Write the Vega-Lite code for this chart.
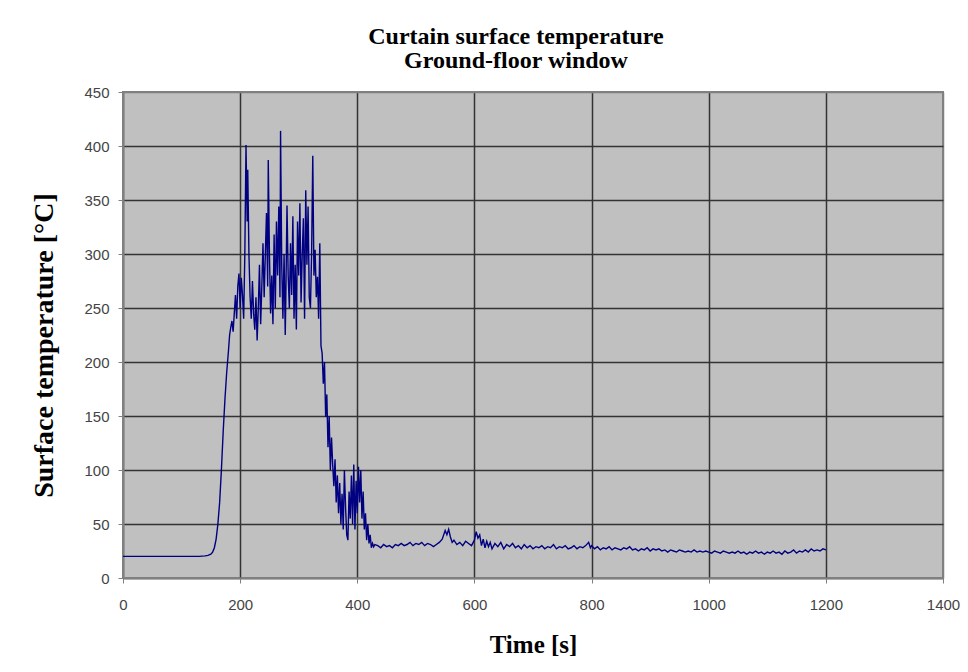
{
  "$schema": "https://vega.github.io/schema/vega-lite/v6.json",
  "width": 820,
  "height": 486,
  "autosize": {"type": "none"},
  "padding": {"left": 123, "top": 92, "right": 25, "bottom": 94},
  "background": "white",
  "title": {
    "text": ["Curtain surface temperature", "Ground-floor window"],
    "font": "Liberation Serif",
    "fontSize": 24,
    "fontWeight": "bold",
    "lineHeight": 24,
    "color": "black",
    "anchor": "middle",
    "frame": "group",
    "offset": 12,
    "dx": -17
  },
  "config": {
    "view": {"fill": "#C0C0C0", "stroke": "#808080", "strokeWidth": 2}
  },
  "data": {"values": [
    {"t":0,"v":20},{"t":50,"v":20},{"t":100,"v":20},{"t":130,"v":20},{"t":140,"v":20.5},{"t":145,"v":21},{"t":150,"v":22},{"t":153,"v":24},{"t":156,"v":28},{"t":159,"v":36},{"t":162,"v":50},{"t":165,"v":70},{"t":168,"v":100},{"t":171,"v":135},{"t":174,"v":165},{"t":177,"v":190},{"t":180,"v":210},{"t":182,"v":225},{"t":184,"v":232},{"t":186,"v":238},{"t":188,"v":228},{"t":190,"v":245},{"t":192,"v":262},{"t":194,"v":240},{"t":196,"v":270},{"t":198,"v":282},{"t":200,"v":250},{"t":202,"v":278},{"t":204,"v":262},{"t":206,"v":240},{"t":208,"v":300},{"t":210,"v":401},{"t":212,"v":330},{"t":213,"v":378},{"t":215,"v":300},{"t":217,"v":260},{"t":219,"v":240},{"t":221,"v":275},{"t":223,"v":245},{"t":225,"v":230},{"t":227,"v":260},{"t":229,"v":220},{"t":231,"v":250},{"t":233,"v":290},{"t":235,"v":235},{"t":237,"v":270},{"t":239,"v":310},{"t":241,"v":260},{"t":243,"v":300},{"t":245,"v":338},{"t":247,"v":270},{"t":248,"v":387},{"t":250,"v":300},{"t":252,"v":245},{"t":254,"v":280},{"t":256,"v":235},{"t":258,"v":318},{"t":260,"v":250},{"t":262,"v":330},{"t":264,"v":280},{"t":266,"v":344},{"t":268,"v":260},{"t":269,"v":414},{"t":271,"v":290},{"t":273,"v":240},{"t":275,"v":300},{"t":277,"v":225},{"t":278,"v":260},{"t":280,"v":345},{"t":282,"v":280},{"t":284,"v":250},{"t":286,"v":310},{"t":288,"v":262},{"t":290,"v":335},{"t":292,"v":240},{"t":294,"v":290},{"t":296,"v":230},{"t":298,"v":330},{"t":300,"v":280},{"t":302,"v":347},{"t":304,"v":255},{"t":306,"v":300},{"t":308,"v":333},{"t":310,"v":240},{"t":312,"v":359},{"t":314,"v":290},{"t":316,"v":344},{"t":318,"v":260},{"t":320,"v":250},{"t":322,"v":300},{"t":324,"v":391},{"t":326,"v":280},{"t":328,"v":304},{"t":330,"v":260},{"t":332,"v":279},{"t":334,"v":240},{"t":336,"v":310},{"t":338,"v":215},{"t":340,"v":208},{"t":342,"v":180},{"t":344,"v":200},{"t":346,"v":149},{"t":348,"v":170},{"t":350,"v":121},{"t":352,"v":150},{"t":354,"v":100},{"t":356,"v":130},{"t":358,"v":105},{"t":360,"v":85},{"t":362,"v":110},{"t":364,"v":70},{"t":366,"v":95},{"t":368,"v":60},{"t":370,"v":88},{"t":372,"v":50},{"t":374,"v":78},{"t":376,"v":45},{"t":378,"v":100},{"t":380,"v":65},{"t":382,"v":40},{"t":384,"v":35},{"t":386,"v":80},{"t":388,"v":55},{"t":390,"v":95},{"t":392,"v":50},{"t":394,"v":105},{"t":396,"v":45},{"t":398,"v":90},{"t":400,"v":60},{"t":402,"v":103},{"t":404,"v":70},{"t":406,"v":100},{"t":408,"v":55},{"t":410,"v":80},{"t":412,"v":45},{"t":414,"v":60},{"t":416,"v":35},{"t":418,"v":50},{"t":420,"v":32},{"t":422,"v":40},{"t":424,"v":28},{"t":426,"v":32},{"t":428,"v":29},{"t":430,"v":31},
    {"t":435,"v":30},{"t":440,"v":28},{"t":445,"v":31},{"t":450,"v":29},{"t":455,"v":30},{"t":460,"v":28},{"t":465,"v":31},{"t":470,"v":30},{"t":475,"v":32},{"t":480,"v":30},{"t":485,"v":31},{"t":490,"v":33},{"t":495,"v":30},{"t":500,"v":32},{"t":505,"v":31},{"t":510,"v":33},{"t":515,"v":30},{"t":520,"v":32},{"t":525,"v":31},{"t":530,"v":29},{"t":535,"v":31},{"t":540,"v":33},{"t":545,"v":36},{"t":550,"v":44},{"t":553,"v":40},{"t":556,"v":45},{"t":559,"v":38},{"t":562,"v":33},{"t":565,"v":35},{"t":570,"v":31},{"t":575,"v":33},{"t":580,"v":30},{"t":585,"v":34},{"t":590,"v":32},{"t":595,"v":30},{"t":600,"v":35},{"t":603,"v":43},{"t":606,"v":37},{"t":609,"v":40},{"t":612,"v":30},{"t":615,"v":36},{"t":618,"v":28},{"t":621,"v":34},{"t":624,"v":29},{"t":627,"v":33},{"t":630,"v":27},{"t":635,"v":32},{"t":640,"v":29},{"t":645,"v":33},{"t":650,"v":27},{"t":655,"v":31},{"t":660,"v":29},{"t":665,"v":32},{"t":670,"v":28},{"t":675,"v":30},{"t":680,"v":27},{"t":685,"v":31},{"t":690,"v":28},{"t":695,"v":30},{"t":700,"v":27},{"t":705,"v":29},{"t":710,"v":28},{"t":715,"v":30},{"t":720,"v":27},{"t":725,"v":29},{"t":730,"v":28},{"t":735,"v":31},{"t":740,"v":27},{"t":745,"v":29},{"t":750,"v":28},{"t":755,"v":30},{"t":760,"v":27},{"t":765,"v":28},{"t":770,"v":30},{"t":775,"v":27},{"t":780,"v":29},{"t":785,"v":28},{"t":790,"v":30},{"t":795,"v":33},{"t":798,"v":28},{"t":800,"v":30},{"t":805,"v":27},{"t":810,"v":29},{"t":815,"v":26},{"t":820,"v":28},{"t":825,"v":27},{"t":830,"v":29},{"t":835,"v":26},{"t":840,"v":28},{"t":845,"v":27},{"t":850,"v":26},{"t":855,"v":28},{"t":860,"v":27},{"t":865,"v":29},{"t":870,"v":26},{"t":875,"v":27},{"t":880,"v":25},{"t":885,"v":27},{"t":890,"v":26},{"t":895,"v":28},{"t":900,"v":25},{"t":905,"v":27},{"t":910,"v":26},{"t":915,"v":27},{"t":920,"v":25},{"t":925,"v":26},{"t":930,"v":24},{"t":935,"v":26},{"t":940,"v":25},{"t":945,"v":24},{"t":950,"v":26},{"t":955,"v":25},{"t":960,"v":24},{"t":965,"v":25},{"t":970,"v":24},{"t":975,"v":26},{"t":980,"v":24},{"t":985,"v":25},{"t":990,"v":24},{"t":995,"v":25},{"t":1000,"v":24},{"t":1005,"v":23},{"t":1010,"v":25},{"t":1015,"v":24},{"t":1020,"v":23},{"t":1025,"v":25},{"t":1030,"v":24},{"t":1035,"v":23},{"t":1040,"v":24},{"t":1045,"v":23},{"t":1050,"v":25},{"t":1055,"v":23},{"t":1060,"v":24},{"t":1065,"v":22},{"t":1070,"v":24},{"t":1075,"v":23},{"t":1080,"v":25},{"t":1085,"v":23},{"t":1090,"v":24},{"t":1095,"v":22},{"t":1100,"v":24},{"t":1105,"v":23},{"t":1110,"v":25},{"t":1115,"v":23},{"t":1120,"v":24},{"t":1125,"v":22},{"t":1130,"v":25},{"t":1135,"v":23},{"t":1140,"v":24},{"t":1145,"v":26},{"t":1150,"v":23},{"t":1155,"v":25},{"t":1160,"v":24},{"t":1165,"v":26},{"t":1170,"v":24},{"t":1175,"v":27},{"t":1180,"v":25},{"t":1185,"v":26},{"t":1190,"v":25},{"t":1195,"v":27},{"t":1200,"v":26}
  ]},
  "mark": {"type": "line", "color": "#000080", "strokeWidth": 1.4, "clip": true},
  "encoding": {
    "x": {
      "field": "t", "type": "quantitative",
      "scale": {"domain": [0, 1400], "nice": false, "zero": true},
      "axis": {
        "values": [0, 200, 400, 600, 800, 1000, 1200, 1400],
        "format": "d",
        "title": "Time [s]",
        "titleFont": "Liberation Serif", "titleFontSize": 25, "titleFontWeight": "bold", "titleColor": "black",
        "titleBaseline": "top", "titleAlign": "center", "titleX": 410, "titleY": 54,
        "labelFont": "Liberation Sans", "labelFontSize": 15, "labelColor": "#444444",
        "labelPadding": 14, "tickSize": 5, "tickColor": "#808080",
        "domainColor": "#808080", "domainWidth": 2,
        "grid": true,
        "gridColor": {"condition": {"test": "datum.value == 0 || datum.value == 1400", "value": "#808080"}, "value": "#333333"},
        "gridWidth": 1.5, "gridOpacity": 1,
        "labelFlush": false
      }
    },
    "y": {
      "field": "v", "type": "quantitative",
      "scale": {"domain": [0, 450], "nice": false},
      "axis": {
        "values": [0, 50, 100, 150, 200, 250, 300, 350, 400, 450],
        "format": "d",
        "title": "Surface temperature [°C]",
        "titleFont": "Liberation Serif", "titleFontSize": 28, "titleFontWeight": "bold", "titleColor": "black",
        "titleAngle": 270, "titleBaseline": "bottom", "titleAlign": "center", "titleX": -65, "titleY": 253,
        "labelFont": "Liberation Sans", "labelFontSize": 15, "labelColor": "#444444",
        "labelPadding": 9, "tickSize": 5, "tickColor": "#808080",
        "domainColor": "#808080", "domainWidth": 2,
        "grid": true,
        "gridColor": {"condition": {"test": "datum.value == 0 || datum.value == 450", "value": "#808080"}, "value": "#333333"},
        "gridWidth": 1.5, "gridOpacity": 1,
        "labelFlush": false
      }
    }
  }
}
